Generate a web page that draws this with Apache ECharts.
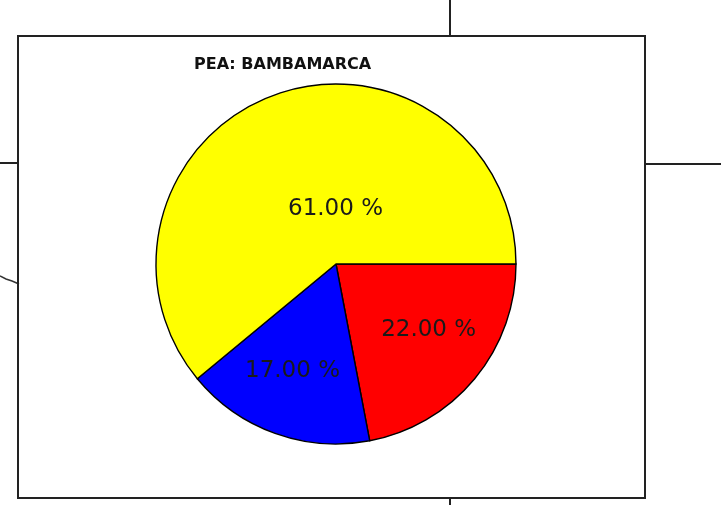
<!DOCTYPE html>
<html>
<head>
<meta charset="utf-8">
<script src="https://cdn.jsdelivr.net/npm/echarts@6/dist/echarts.min.js"></script>
<style>
  html, body { margin: 0; padding: 0; background: #fff; }
  #chart { width: 721px; height: 505px; }
</style>
</head>
<body>
<div id="chart"></div>
<script>
var titleText = "PEA: BAMBAMARCA";
var categories = ["Rojo", "Azul", "Amarillo"];
var values = [22, 17, 61];
var colors = ["#ff0000", "#0000ff", "#ffff00"];
// small nudges so the labels sit where the original put them
var labelOffsets = [[21, 7], [-12, 20], [31, 33]];

var myChart = echarts.init(document.getElementById("chart"));
var option;
option = {
  backgroundColor: "#ffffff",
  animation: false,
  title: {
    text: titleText,
    left: 189,
    top: 52,
    textStyle: {
      fontFamily: "DejaVu Sans",
      fontSize: 16,
      fontWeight: "bold",
      color: "#111"
    }
  },
  graphic: [
    // frame around the chart
    { type: "rect", shape: { x: 18, y: 36, width: 627, height: 462 },
      style: { fill: null, stroke: "#222", lineWidth: 2 }, z: 10 },
    // bits of the surrounding map lines
    { type: "line", shape: { x1: 450, y1: 0, x2: 450, y2: 36 }, style: { stroke: "#222", lineWidth: 2 } },
    { type: "line", shape: { x1: 450, y1: 498, x2: 450, y2: 505 }, style: { stroke: "#222", lineWidth: 2 } },
    { type: "line", shape: { x1: 0, y1: 163, x2: 18, y2: 163 }, style: { stroke: "#222", lineWidth: 2 } },
    { type: "line", shape: { x1: 645, y1: 164, x2: 721, y2: 164 }, style: { stroke: "#222", lineWidth: 2 } },
    { type: "polyline", shape: { points: [[0, 276], [6, 279], [12, 281], [19, 284]] }, style: { stroke: "#333", lineWidth: 1.5, fill: null } }
  ],
  series: [
    {
      type: "pie",
      center: [336, 264],
      radius: 180,
      startAngle: 0,
      clockwise: true,
      silent: true,
      data: categories.map(function (name, i) {
        return {
          name: name,
          value: values[i],
          itemStyle: { color: colors[i] },
          label: { offset: labelOffsets[i] }
        };
      }),
      itemStyle: {
        borderColor: "#000",
        borderWidth: 1.4
      },
      label: {
        show: true,
        position: "inside",
        formatter: function (p) {
          return p.value.toFixed(2) + " %";
        },
        fontFamily: "DejaVu Sans",
        fontSize: 23,
        color: "#1a1a1a"
      },
      labelLine: { show: false }
    }
  ]
};
option && myChart.setOption(option);
</script>
</body>
</html>
